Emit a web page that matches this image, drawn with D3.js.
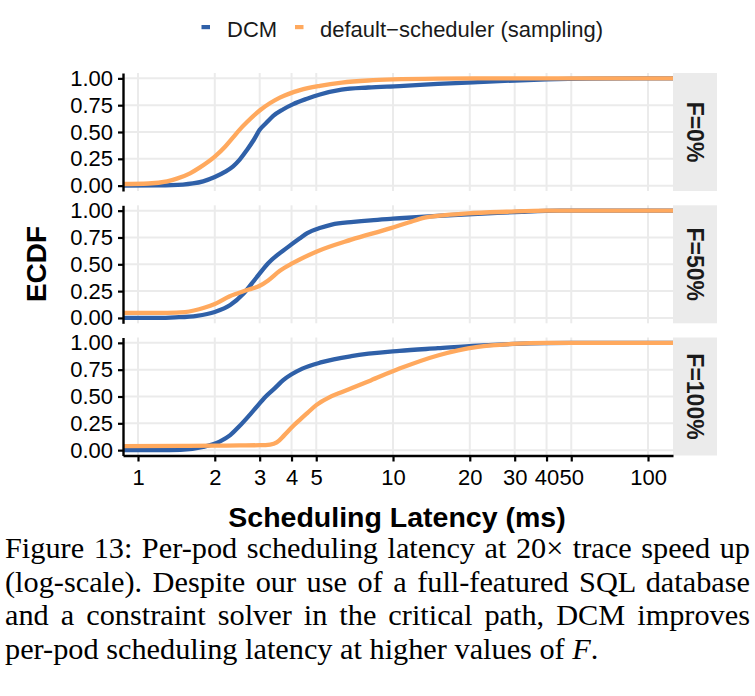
<!DOCTYPE html>
<html>
<head>
<meta charset="utf-8">
<script src="https://cdn.jsdelivr.net/npm/d3@7"></script>
<style>
  html, body { margin: 0; padding: 0; background: #fff; }
  svg { display: block; }
</style>
</head>
<body>
<svg id="chart" width="755" height="696"></svg>
<script>
// ---------------- data ----------------
const panelLabels = ["F=0%", "F=50%", "F=100%"];
const seriesNames = ["DCM", "default\u2212scheduler (sampling)"];
const seriesColors = ["#2F60A8", "#FFA95E"];
const xTickValues = [1, 2, 3, 4, 5, 10, 20, 30, 40, 50, 100];
const yTickValues = [0, 0.25, 0.5, 0.75, 1];

// [latency ms, ECDF]
const dcmF0 = [[0.87,0],[1.2,0.002],[1.5,0.01],[1.64,0.02],[1.8,0.04],[2.0,0.08],[2.2,0.13],[2.36,0.18],[2.5,0.24],[2.67,0.33],[2.85,0.43],[3.0,0.52],[3.2,0.59],[3.39,0.65],[3.7,0.71],[4.06,0.76],[4.6,0.81],[5.17,0.85],[6.28,0.895],[8,0.915],[10.6,0.928],[15,0.948],[21.5,0.965],[30,0.98],[40,0.99],[60,0.997],[126,1]];
const defF0 = [[0.87,0.015],[1.1,0.02],[1.3,0.04],[1.42,0.065],[1.6,0.115],[1.75,0.17],[2.0,0.27],[2.2,0.365],[2.36,0.45],[2.5,0.52],[2.67,0.59],[3.0,0.70],[3.3,0.77],[3.6,0.82],[4.32,0.89],[5.17,0.93],[6.3,0.96],[8,0.98],[10,0.99],[15,0.997],[30,1],[126,1]];
const dcmF50 = [[0.87,0],[1.2,0],[1.4,0.005],[1.7,0.02],[2.0,0.056],[2.3,0.12],[2.6,0.23],[2.9,0.37],[3.24,0.51],[3.87,0.66],[4.3,0.74],[4.61,0.79],[5.2,0.84],[5.75,0.87],[7,0.895],[8.18,0.91],[10,0.925],[13.3,0.945],[18,0.962],[23.5,0.975],[32,0.99],[45,1.0],[126,1]];
const defF50 = [[0.87,0.047],[1.3,0.048],[1.53,0.055],[1.83,0.097],[2.0,0.13],[2.28,0.20],[2.72,0.265],[3.0,0.30],[3.24,0.35],[3.6,0.44],[4.04,0.51],[5.03,0.62],[6.86,0.73],[9.73,0.835],[11.5,0.89],[13.3,0.935],[16,0.958],[19.7,0.975],[28,0.99],[40,1.0],[126,1]];
const dcmF100 = [[0.87,0],[1.2,0],[1.47,0.003],[1.8,0.03],[2.09,0.08],[2.3,0.14],[2.49,0.22],[2.84,0.37],[3.17,0.50],[3.45,0.58],[3.7,0.65],[4.41,0.76],[5.26,0.82],[6.86,0.876],[10.6,0.925],[15,0.95],[21.5,0.975],[30,0.99],[50,1.0],[126,1]];
const defF100 = [[0.87,0.037],[1.5,0.04],[2.0,0.042],[2.5,0.044],[3.0,0.046],[3.3,0.052],[3.5,0.072],[3.75,0.14],[4.04,0.22],[4.3,0.28],[4.61,0.345],[5.0,0.42],[5.6,0.49],[6.28,0.54],[7.1,0.59],[8.18,0.65],[10.6,0.76],[15.1,0.885],[18,0.93],[21.5,0.963],[29.3,0.99],[40,1.0],[126,1]];

const panelData = [[dcmF0, defF0], [dcmF50, defF50], [dcmF100, defF100]];

const captionLines = [
  "Figure 13: Per-pod scheduling latency at 20\u00d7 trace speed up",
  "(log-scale). Despite our use of a full-featured SQL database",
  "and a constraint solver in the critical path, DCM improves",
  "per-pod scheduling latency at higher values of "
];

// ---------------- layout ----------------
const svg = d3.select("#chart");
const sans = "'Liberation Sans', Arial, Helvetica, sans-serif";
const serif = "'Liberation Serif', 'Times New Roman', serif";
const plotLeft = 123, plotRight = 673, stripRight = 717;
const panelTops = [73, 205.3, 337.5];
const panelH = 118;
const gridColor = "#EBEBEB";

const x = d3.scaleLog().domain([0.8733, 125.3]).range([plotLeft, plotRight]);

// legend
const legend = svg.append("g");
const legendItems = [{key: 201.5, text: 227}, {key: 295, text: 320}];
legendItems.forEach((it, i) => {
  legend.append("rect").attr("x", it.key).attr("y", 25).attr("width", 8.5).attr("height", 4.2)
    .attr("fill", seriesColors[i]);
  legend.append("text").attr("x", it.text).attr("y", 37)
    .attr("font-family", sans).attr("font-size", 22).attr("fill", "#1a1a1a")
    .text(seriesNames[i]);
});

panelLabels.forEach((label, pi) => {
  const top = panelTops[pi], bottom = top + panelH;
  const y = d3.scaleLinear().domain([-0.05, 1.05]).range([bottom, top]);
  const g = svg.append("g");

  // grid
  g.selectAll(".hg").data(yTickValues).join("line")
    .attr("x1", plotLeft).attr("x2", plotRight)
    .attr("y1", d => y(d)).attr("y2", d => y(d))
    .attr("stroke", gridColor).attr("stroke-width", 2);
  g.selectAll(".vg").data(xTickValues).join("line")
    .attr("x1", d => x(d)).attr("x2", d => x(d))
    .attr("y1", top).attr("y2", bottom)
    .attr("stroke", gridColor).attr("stroke-width", 2);

  // clip
  const clipId = "clip" + pi;
  svg.append("clipPath").attr("id", clipId).append("rect")
    .attr("x", plotLeft).attr("y", top).attr("width", plotRight - plotLeft).attr("height", panelH);

  const line = d3.line().x(d => x(d[0])).y(d => y(d[1])).curve(d3.curveMonotoneX);
  panelData[pi].forEach((ser, si) => {
    g.append("path").datum(ser).attr("d", line)
      .attr("fill", "none").attr("stroke", seriesColors[si])
      .attr("stroke-width", 4.3).attr("stroke-linejoin", "round")
      .attr("clip-path", `url(#${clipId})`);
  });

  // strip
  g.append("rect").attr("x", plotRight).attr("y", top)
    .attr("width", stripRight - plotRight).attr("height", panelH).attr("fill", gridColor);
  const cx = (plotRight + stripRight) / 2, cy = top + panelH / 2;
  g.append("text").attr("transform", `translate(${cx},${cy}) rotate(90)`)
    .attr("text-anchor", "middle").attr("dy", "0.36em")
    .attr("font-family", sans).attr("font-weight", "bold").attr("font-size", 23)
    .attr("fill", "#1a1a1a").text(label);

  // y axis
  const ya = g.append("g").attr("transform", `translate(${plotLeft},0)`)
    .call(d3.axisLeft(y).tickValues(yTickValues).tickFormat(d3.format(".2f"))
      .tickSize(5).tickSizeOuter(0).tickPadding(5));
  ya.select(".domain").attr("stroke", "#000").attr("stroke-width", 2.4);
  ya.selectAll(".tick line").attr("stroke", "#000").attr("stroke-width", 2.2);
  ya.selectAll(".tick text").attr("font-family", sans).attr("font-size", 22).attr("fill", "#000");

  if (pi === panelLabels.length - 1) {
    const xa = g.append("g").attr("transform", `translate(0,${bottom})`)
      .call(d3.axisBottom(x).tickValues(xTickValues).tickFormat(d3.format("d"))
        .tickSize(6).tickSizeOuter(0).tickPadding(8));
    xa.select(".domain").attr("stroke", "#000").attr("stroke-width", 2.4);
    xa.selectAll(".tick line").attr("stroke", "#000").attr("stroke-width", 2.2);
    xa.selectAll(".tick text").attr("font-family", sans).attr("font-size", 22).attr("fill", "#000");
  }
});

// axis titles
svg.append("text").attr("x", (plotLeft + plotRight) / 2 - 1).attr("y", 527)
  .attr("text-anchor", "middle").attr("font-family", sans).attr("font-weight", "bold")
  .attr("font-size", 28.5).attr("fill", "#000").text("Scheduling Latency (ms)");
svg.append("text").attr("transform", `translate(46,264) rotate(-90)`)
  .attr("text-anchor", "middle").attr("font-family", sans).attr("font-weight", "bold")
  .attr("font-size", 28).attr("fill", "#000").text("ECDF");

// caption
const capLeft = 5, capRight = 750, capBase = 558, capStep = 33.5;
captionLines.forEach((ln, i) => {
  const t = svg.append("text").attr("x", capLeft).attr("y", capBase + i * capStep)
    .attr("font-family", serif).attr("font-size", 30.3).attr("fill", "#000");
  t.append("tspan").text(ln);
  if (i === captionLines.length - 1) {
    t.append("tspan").attr("font-style", "italic").text("F");
    t.append("tspan").text(".");
  } else {
    const len = t.node().getComputedTextLength();
    const spaces = (ln.match(/ /g) || []).length;
    if (spaces > 0) t.attr("word-spacing", (capRight - capLeft - len) / spaces);
  }
});
</script>
</body>
</html>
